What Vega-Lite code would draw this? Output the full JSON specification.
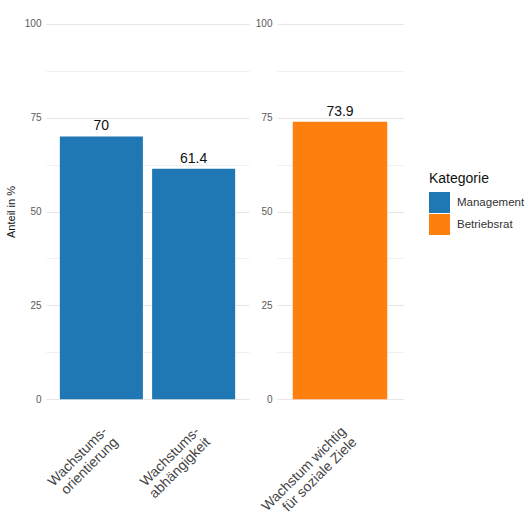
{
  "$schema": "https://vega.github.io/schema/vega-lite/v6.json",
  "background": "white",
  "padding": 5,
  "spacing": 6,
  "data": {
    "values": [
      {"Item": "Wachstums-\norientierung", "Anteil": 70, "Kategorie": "Management"},
      {"Item": "Wachstums-\nabhängigkeit", "Anteil": 61.4, "Kategorie": "Management"},
      {"Item": "Wachstum wichtig\nfür soziale Ziele", "Anteil": 73.9, "Kategorie": "Betriebsrat"}
    ]
  },
  "hconcat": [
    {
      "width": 203,
      "height": 413,
      "transform": [{"filter": "datum.Kategorie === 'Management'"}],
      "encoding": {
        "x": {"field": "Item", "type": "nominal", "sort": null,
              "scale": {"paddingInner": 0.1, "paddingOuter": 0.15},
              "axis": {"title": null}},
        "y": {"field": "Anteil", "type": "quantitative",
              "scale": {"domain": [-5, 105], "nice": false, "zero": false},
              "axis": {"title": "Anteil in %", "labelOverlap": false,
                       "values": [0, 12.5, 25, 37.5, 50, 62.5, 75, 87.5, 100],
                       "labelExpr": "indexof([0, 25, 50, 75, 100], datum.value) >= 0 ? datum.label : ''"}}
      },
      "layer": [
        {"mark": {"type": "bar"},
         "encoding": {
           "y2": {"datum": 0},
           "color": {"field": "Kategorie", "type": "nominal",
                     "scale": {"domain": ["Management", "Betriebsrat"], "range": ["#1f77b4", "#ff7f0e"]},
                     "legend": {"title": "Kategorie"}}
         }},
        {"mark": {"type": "text", "baseline": "bottom", "dy": -3, "fontSize": 14, "color": "#111"},
         "encoding": {"text": {"field": "Anteil", "type": "quantitative", "format": "~g"}}}
      ]
    },
    {
      "width": 126,
      "height": 413,
      "transform": [{"filter": "datum.Kategorie === 'Betriebsrat'"}],
      "encoding": {
        "x": {"field": "Item", "type": "nominal", "sort": null,
              "scale": {"paddingInner": 0.1, "paddingOuter": 0.15},
              "axis": {"title": null}},
        "y": {"field": "Anteil", "type": "quantitative",
              "scale": {"domain": [-5, 105], "nice": false, "zero": false},
              "axis": {"title": null, "labelOverlap": false,
                       "values": [0, 12.5, 25, 37.5, 50, 62.5, 75, 87.5, 100],
                       "labelExpr": "indexof([0, 25, 50, 75, 100], datum.value) >= 0 ? datum.label : ''"}}
      },
      "layer": [
        {"mark": {"type": "bar"},
         "encoding": {
           "y2": {"datum": 0},
           "color": {"field": "Kategorie", "type": "nominal",
                     "scale": {"domain": ["Management", "Betriebsrat"], "range": ["#1f77b4", "#ff7f0e"]},
                     "legend": {"title": "Kategorie"}}
         }},
        {"mark": {"type": "text", "baseline": "bottom", "dy": -3, "fontSize": 14, "color": "#111"},
         "encoding": {"text": {"field": "Anteil", "type": "quantitative", "format": "~g"}}}
      ]
    }
  ],
  "resolve": {"scale": {"color": "shared"}},
  "config": {
    "font": "Liberation Sans",
    "view": {"stroke": null},
    "axis": {
      "domain": false,
      "ticks": false,
      "gridColor": "#e6e6e6",
      "labelColor": "#5a5a5a",
      "labelFontSize": 10,
      "titleFontSize": 11,
      "titleFontWeight": "normal",
      "titleColor": "#111"
    },
    "axisY": {
      "gridWidth": {"condition": {"test": "datum.value % 25 !== 0", "value": 0.6}, "value": 1},
      "labelPadding": 5,
      "titlePadding": 8
    },
    "axisX": {
      "labelAngle": -45,
      "labelAlign": "right",
      "labelBaseline": "top",
      "labelFontSize": 14,
      "labelLineHeight": 15,
      "labelColor": "#444444",
      "labelPadding": 6,
      "labelOffset": -1,
      "labelExpr": "split(datum.label, '\\n')",
      "labelLimit": 0,
      "labelOverlap": false,
      "gridWidth": 1
    },
    "legend": {
      "orient": "none",
      "legendX": 383,
      "legendY": 167,
      "titleFontSize": 14,
      "titleFontWeight": "normal",
      "titleColor": "#111",
      "titlePadding": 6,
      "labelFontSize": 11.5,
      "labelColor": "#333",
      "labelOffset": 7,
      "symbolType": "square",
      "symbolSize": 440,
      "symbolStrokeWidth": 0,
      "symbolOpacity": 1,
      "rowPadding": 1
    }
  }
}
